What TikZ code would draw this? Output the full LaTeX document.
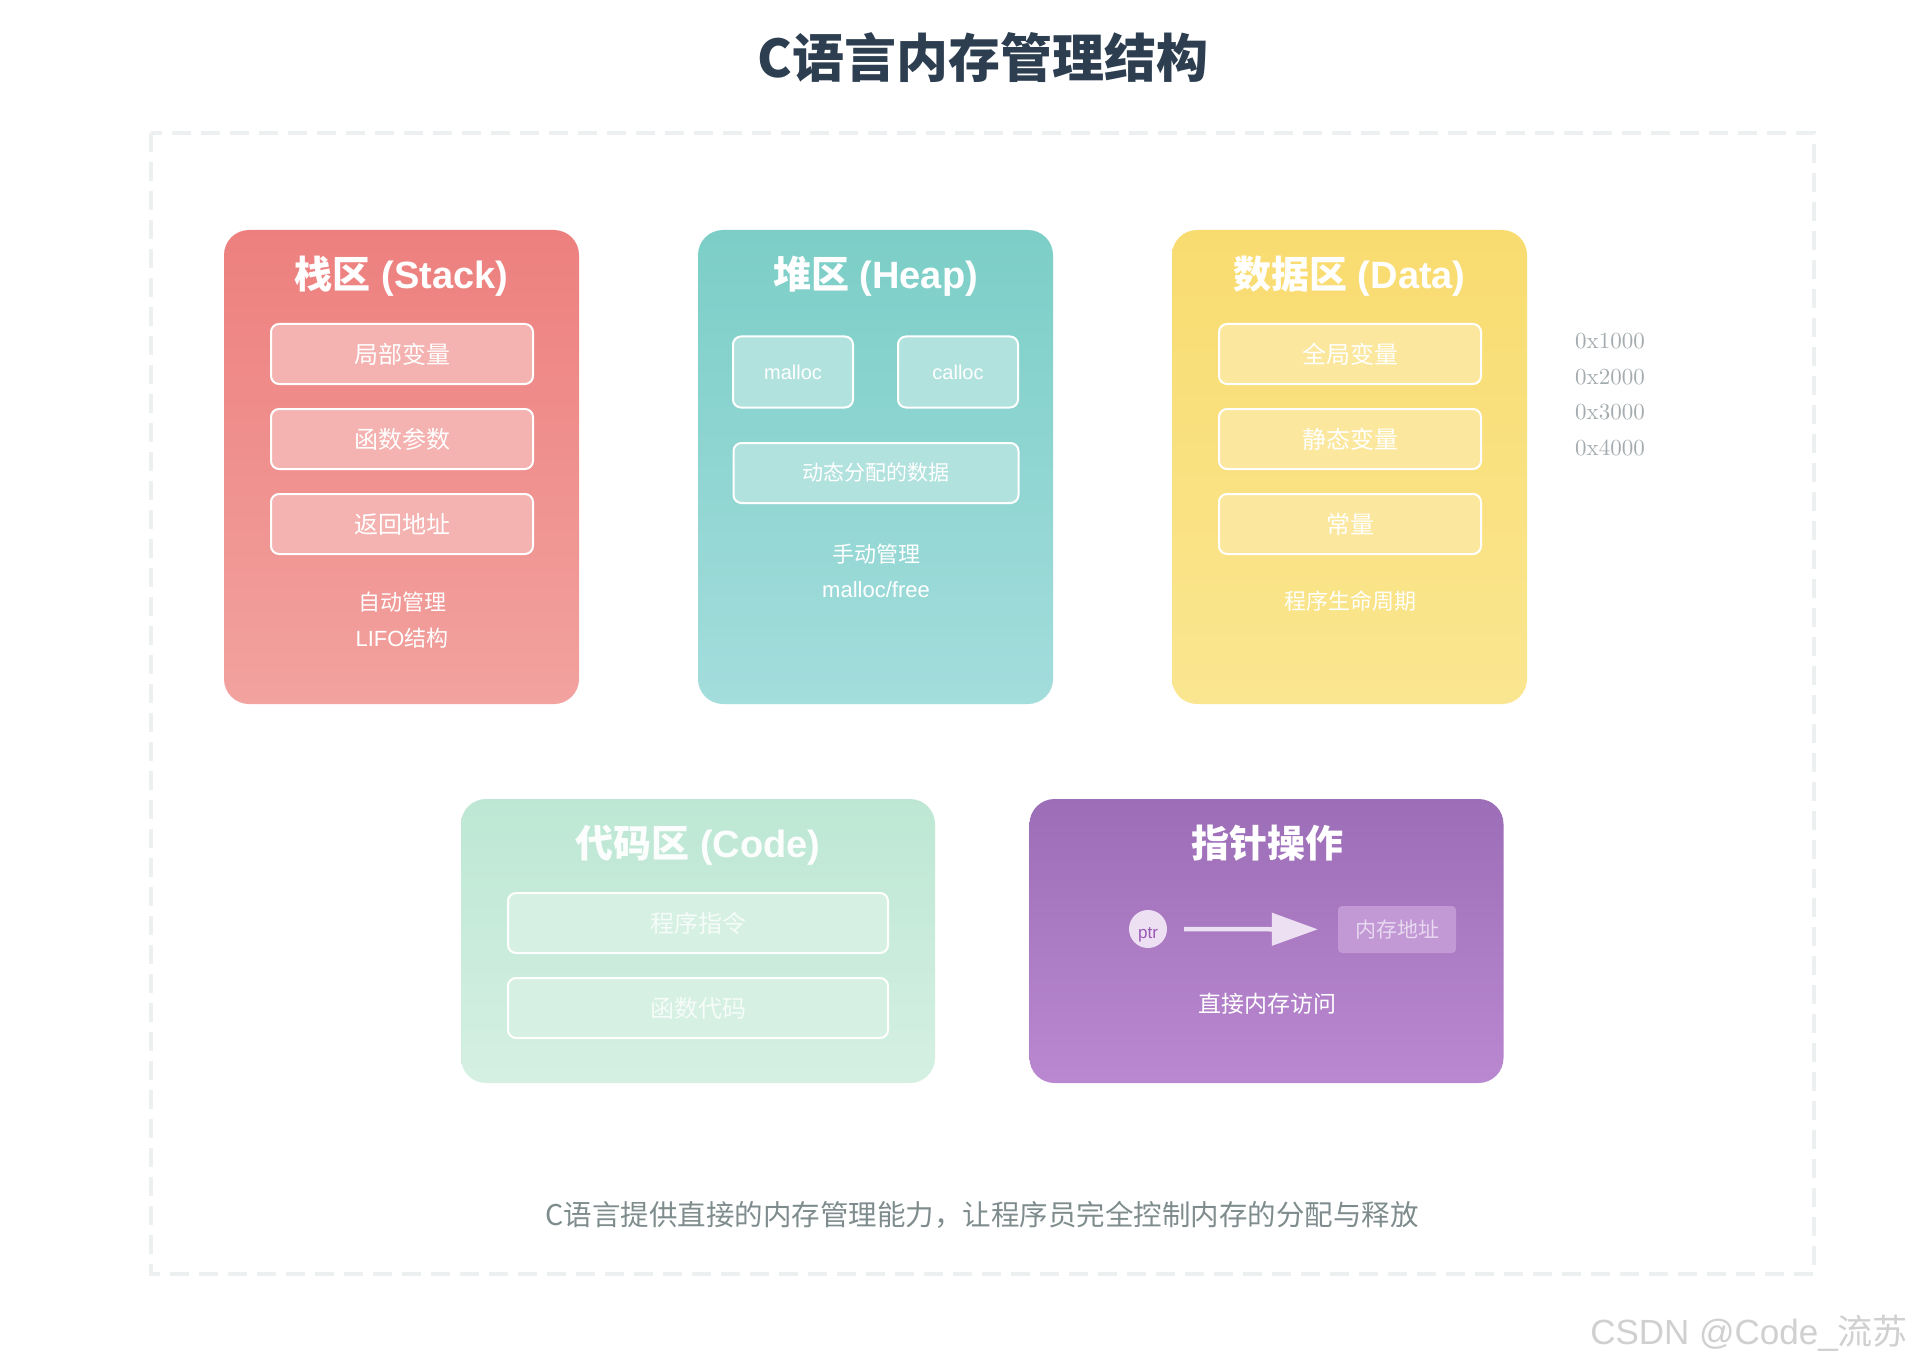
\documentclass[tikz,border=0pt]{standalone}
\usepackage{fontspec}
\setmainfont{Liberation Sans}
\newfontfamily\zh{Noto Sans CJK SC}
\newfontfamily\hexfont{lmroman10-regular.otf}
\usetikzlibrary{positioning,arrows.meta,shadings}

\definecolor{titlefg}{RGB}{44,62,80}
\definecolor{framegray}{RGB}{236,240,241}
\definecolor{stackA}{RGB}{237,128,126}
\definecolor{stackB}{RGB}{242,162,159}
\definecolor{stackIn}{RGB}{244,178,176}
\definecolor{heapA}{RGB}{124,206,199}
\definecolor{heapB}{RGB}{163,221,220}
\definecolor{heapIn}{RGB}{178,226,222}
\definecolor{dataA}{RGB}{249,220,112}
\definecolor{dataB}{RGB}{250,230,144}
\definecolor{dataIn}{RGB}{251,232,158}
\definecolor{codeA}{RGB}{189,231,212}
\definecolor{codeB}{RGB}{213,240,227}
\definecolor{codeIn}{RGB}{215,240,228}
\definecolor{codeTxt}{RGB}{245,252,249}
\definecolor{ptrA}{RGB}{156,110,183}
\definecolor{ptrB}{RGB}{186,136,208}
\definecolor{ptrLight}{RGB}{237,224,243}
\definecolor{ptrFg}{RGB}{155,89,182}
\definecolor{addrBox}{RGB}{194,153,213}
\definecolor{addrTxt}{RGB}{232,216,240}
\definecolor{hexgray}{RGB}{165,172,175}
\definecolor{notegray}{RGB}{127,140,141}
\definecolor{markgray}{RGB}{208,208,208}

\newcommand{\fsz}[1]{\fontsize{#1}{1.2\dimexpr#1pt\relax}\selectfont}

\begin{document}
\begin{tikzpicture}[x=1pt, y=-1pt,
  area/.style={rounded corners=25pt, minimum width=355pt, minimum height=474pt,
               inner sep=0pt, shading angle=45},
  wide/.style={area, minimum width=474pt, minimum height=284pt},
  head/.style={text=white, font=\bfseries\fsz{38}, inner sep=0pt},
  inbox/.style={draw=white, line width=2pt, rounded corners=8pt, minimum width=262pt,
                minimum height=60pt, inner sep=0pt, text=white, font=\zh\fsz{24}},
  note/.style={text=white, align=center, font=\fsz{22}, inner sep=0pt},
  ]
  \useasboundingbox[fill=white] (0,0) rectangle (1912,1364);

  \node[text=titlefg, font=\zh\bfseries\fsz{52}] (title) at (983,58) {C语言内存管理结构};
  \draw[framegray, line width=4pt, dash pattern=on 19pt off 10pt] (151,133) rectangle (1814,1274);

  % stack
  \node[area, top color=stackA, bottom color=stackB] (stack) at (401.5,467) {};
  \node[head] (stackT) at (401.5,276) {{\zh 栈区} (Stack)};
  \node[inbox, fill=stackIn] (sv1) at (402,354) {局部变量};
  \node[inbox, fill=stackIn, below=23pt of sv1] (sv2) {函数参数};
  \node[inbox, fill=stackIn, below=23pt of sv2] (sv3) {返回地址};
  \node[note] (stackN) at (402,620) {{\zh 自动管理}\\[9pt]LIFO{\zh 结构}};

  % heap
  \node[area, top color=heapA, bottom color=heapB] (heap) at (875.5,467) {};
  \node[head] (heapT) at (875.5,276) {{\zh 堆区} (Heap)};
  \node[inbox, fill=heapIn, minimum width=120pt, minimum height=71pt, font=\fsz{20}] (hm) at (793,372) {malloc};
  \node[inbox, fill=heapIn, minimum width=120pt, minimum height=71pt, font=\fsz{20}] (hc) at (958,372) {calloc};
  \node[inbox, fill=heapIn, minimum width=285pt, font=\zh\fsz{21}] (hd) at (876,473) {动态分配的数据};
  \node[note] (heapN) at (876,571) {{\zh 手动管理}\\[9pt]malloc/free};

  % data
  \node[area, top color=dataA, bottom color=dataB] (data) at (1349.5,467) {};
  \node[head] (dataT) at (1349.5,276) {{\zh 数据区} (Data)};
  \node[inbox, fill=dataIn] (dv1) at (1350,354) {全局变量};
  \node[inbox, fill=dataIn, below=23pt of dv1] (dv2) {静态变量};
  \node[inbox, fill=dataIn, below=23pt of dv2] (dv3) {常量};
  \node[note, font=\zh\fsz{22}] (dataN) at (1350,601) {程序生命周期};

  \foreach \n [count=\i] in {1000,2000,3000,4000}
    \node[text=hexgray, font=\hexfont\fsz{23}] (hex\i) at (1610,306+35.5*\i) {0x\n};

  % code
  \node[wide, top color=codeA, bottom color=codeB] (code) at (698,941) {};
  \node[head, text=white!95!codeA] (codeT) at (698,845) {{\zh 代码区} (Code)};
  \node[inbox, fill=codeIn, text=codeTxt, minimum width=380pt] (cv1) at (698,923) {程序指令};
  \node[inbox, fill=codeIn, text=codeTxt, minimum width=380pt, below=23pt of cv1] (cv2) {函数代码};

  % pointer
  \node[wide, top color=ptrA, bottom color=ptrB] (ptrbox) at (1266.5,941) {};
  \node[head, font=\zh\bfseries\fsz{38}] (ptrT) at (1267,843) {指针操作};
  \node[circle, fill=ptrLight, minimum size=38pt, inner sep=0pt,
        label={[text=ptrFg, font=\fsz{17}, yshift=-6pt]center:ptr}] (ptr) at (1148,929) {};
  \node[fill=addrBox, rounded corners=4pt, minimum width=118pt, minimum height=47pt,
        inner sep=0pt, text=addrTxt, font=\zh\fsz{21}] (addr) at (1397,929.5) {内存地址};
  \draw[ptrLight, line width=4.5pt, shorten <=17pt, shorten >=20pt,
        -{Triangle[length=46pt, width=32pt]}] (ptr) -- (addr);
  \node[note, font=\zh\fsz{23}] (ptrN) at (1267,1004) {直接内存访问};

  \node[text=notegray, font=\zh\fsz{28.5}] (foot) at (982,1215)
        {C语言提供直接的内存管理能力，让程序员完全控制内存的分配与释放};
  \node[text=markgray, font=\fsz{35}, anchor=east, inner sep=0pt] (mark) at (1908,1333)
        {CSDN @Code\_{\zh 流苏}};
\end{tikzpicture}
\end{document}
